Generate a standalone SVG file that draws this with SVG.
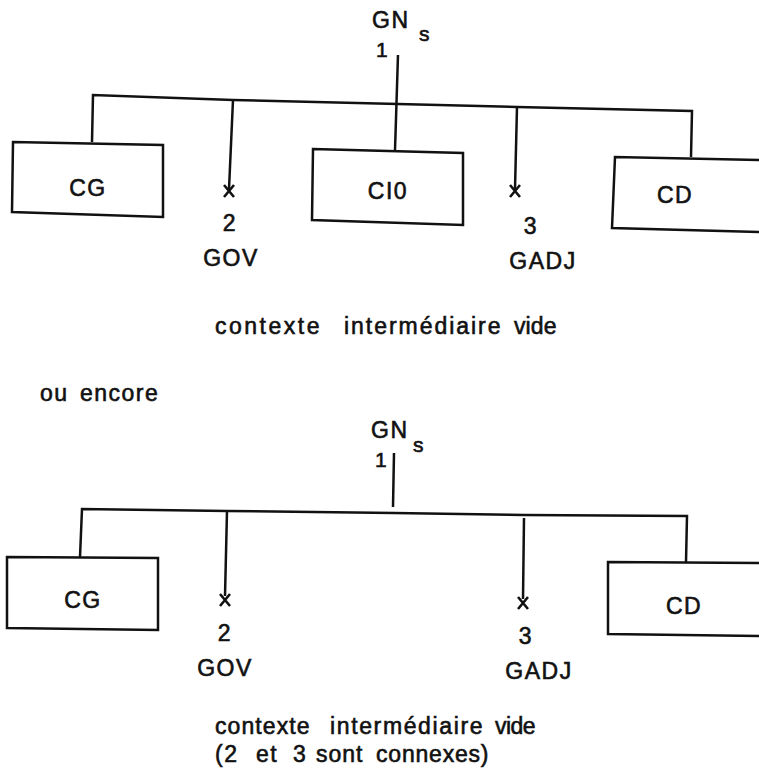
<svg xmlns="http://www.w3.org/2000/svg" width="759" height="784" viewBox="0 0 759 784">
<style>
text{font-family:"Liberation Sans",Arial,sans-serif;font-size:23px;fill:#111;stroke:#111;stroke-width:0.6;letter-spacing:1.5px}
.m{text-anchor:middle}
.sub{font-size:21px}
.box{fill:none;stroke:#111;stroke-width:2.5;stroke-linejoin:miter}
.ln{fill:none;stroke:#111;stroke-width:2.5}
.x{fill:none;stroke:#111;stroke-width:2.6}
</style>
<rect width="759" height="784" fill="#fff"/>

<!-- ===== top diagram ===== -->
<g id="connectors-top">
  <path class="ln" d="M92,142 L93,95 L233,100 L398,104 L517,107 L692,111 L691,157"/>
  <path class="ln" d="M398,55 L395,150"/>
  <path class="ln" d="M233,100 L229,189"/>
  <path class="ln" d="M517,107 L515,189"/>
  <path class="x" d="M224,185 L234,197 M234,185 L224,197"/>
  <path class="x" d="M510,185 L520,197 M520,185 L510,197"/>
</g>
<g id="top-GNs">
  <text x="372" y="28">GN</text>
  <text x="419" y="41" class="sub">s</text>
  <text x="376" y="57" class="sub">1</text>
</g>
<g id="top-CG">
  <path class="box" d="M13,142 L163,145 L163,217 L12,212 Z"/>
  <text x="88" y="196" class="m">CG</text>
</g>
<g id="top-GOV">
  <text x="230" y="231" class="m">2</text>
  <text x="231" y="266" class="m">GOV</text>
</g>
<g id="top-CI0">
  <path class="box" d="M313,149 L463,153 L463,225 L312,220 Z"/>
  <text x="388" y="199" class="m">CI0</text>
</g>
<g id="top-GADJ">
  <text x="531" y="234" class="m">3</text>
  <text x="543" y="269" class="m">GADJ</text>
</g>
<g id="top-CD">
  <path class="box" d="M760,160 L615,157 L612,228 L760,232"/>
  <text x="675" y="203" class="m">CD</text>
</g>
<g id="caption-top">
  <text x="215" y="334" textLength="106" lengthAdjust="spacing">contexte</text>
  <text x="344" y="334" textLength="158" lengthAdjust="spacing">intermédiaire</text>
  <text x="514" y="334" textLength="44" lengthAdjust="spacing">vide</text>
</g>
<g id="ou-encore">
  <text x="40" y="401">ou</text>
  <text x="80" y="401">encore</text>
</g>

<!-- ===== bottom diagram ===== -->
<g id="connectors-bottom">
  <path class="ln" d="M80,557 L82,509 L227,511 L394,513 L524,515 L687,516 L686,562"/>
  <path class="ln" d="M394,453 L393,507"/>
  <path class="ln" d="M227,511 L225,596"/>
  <path class="ln" d="M524,518 L523,599"/>
  <path class="x" d="M220,594 L230,606 M230,594 L220,606"/>
  <path class="x" d="M518,597 L528,609 M528,597 L518,609"/>
</g>
<g id="bottom-GNs">
  <text x="371" y="438">GN</text>
  <text x="413" y="452" class="sub">s</text>
  <text x="375" y="467" class="sub">1</text>
</g>
<g id="bottom-CG">
  <path class="box" d="M7,557 L158,558 L158,630 L7,628 Z"/>
  <text x="83" y="608" class="m">CG</text>
</g>
<g id="bottom-GOV">
  <text x="225" y="641" class="m">2</text>
  <text x="225" y="676" class="m">GOV</text>
</g>
<g id="bottom-GADJ">
  <text x="526" y="644" class="m">3</text>
  <text x="539" y="679" class="m">GADJ</text>
</g>
<g id="bottom-CD">
  <path class="box" d="M760,563 L608,562 L608,634 L760,636"/>
  <text x="684" y="614" class="m">CD</text>
</g>
<g id="caption-bottom">
  <text x="215" y="734" textLength="96" lengthAdjust="spacing">contexte</text>
  <text x="330" y="734" textLength="154" lengthAdjust="spacing">intermédiaire</text>
  <text x="495" y="734" textLength="42" lengthAdjust="spacing">vide</text>
  <text x="215" y="762">(2</text>
  <text x="256" y="762">et</text>
  <text x="293" y="762">3</text>
  <text x="316" y="762" textLength="48" lengthAdjust="spacing">sont</text>
  <text x="376" y="762" textLength="114" lengthAdjust="spacing">connexes)</text>
</g>
</svg>
